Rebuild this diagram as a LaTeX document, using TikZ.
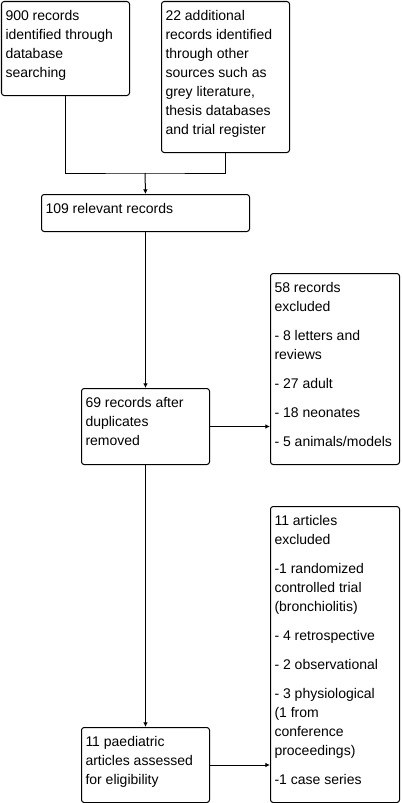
\documentclass[tikz,border=0pt]{standalone}
\usepackage{fontspec}
\setmainfont{Liberation Sans}
\usetikzlibrary{arrows.meta}

% text block of fixed size, set from the top
\newcommand{\flowtext}[3]{\parbox[t][#1][t]{#2}{\raggedright\rule{0pt}{14.25pt}#3}}

\begin{document}
\begin{tikzpicture}[
    x=0.75pt, y=-0.75pt,
    every node/.style={font=\fontsize{10.5pt}{14.25pt}\selectfont},
    box/.style={draw, rounded corners=2pt, line width=0.75pt, anchor=north west,
                inner xsep=3pt, inner ysep=0pt},
    arr/.style={-{Latex[length=3.5pt,width=3.5pt]}},
    line width=0.75pt,
]
  \useasboundingbox (0,0) rectangle (402,803);

  \node [box]  (db)     at (1,1)     {\flowtext{70.5pt}{90pt}{900 records\\identified through\\database\\searching}};
  \node [box]  (other)  at (161,1)   {\flowtext{113.25pt}{90pt}{22 additional\\records identified\\through other\\sources such as\\grey literature,\\thesis databases\\and trial register}};
  \node [box]  (rel)    at (41,194)  {\flowtext{27.75pt}{150pt}{109 relevant records}};
  \node [box]  (dedup)  at (81,388)  {\flowtext{57pt}{90pt}{69 records after\\duplicates\\removed}};
  \node [box]  (excl)   at (270,273) {\flowtext{143.25pt}{90.75pt}{58 records\\excluded\\[7.5pt]- 8 letters and\\reviews\\[7.5pt]- 27 adult\\[7.5pt]- 18 neonates\\[7.5pt]- 5 animals/models}};
  \node [box]  (paed)   at (81,727)  {\flowtext{56.25pt}{90pt}{11 paediatric\\articles assessed\\for eligibility}};
  \node [box]  (artex)  at (270,506) {\flowtext{222pt}{90.75pt}{11 articles\\excluded\\[7.5pt]-1 randomized\\controlled trial\\(bronchiolitis)\\[7.5pt]- 4 retrospective\\[7.5pt]- 2 observational\\[7.5pt]- 3 physiological\\(1 from\\conference\\proceedings)\\[7.5pt]-1 case series}};

  \coordinate (merge) at (145,173);

  \draw (db.south) |- (merge) -| (other.south);
  \draw [arr] (merge) -- (rel.north);
  \draw [arr] (rel.south) -- (dedup.north);
  \draw [arr] (dedup.south) -- (paed.north);
  \draw [arr] (dedup.east) -- (dedup.east -| excl.west);
  \draw [arr] (paed.east) -- (paed.east -| artex.west);
\end{tikzpicture}
\end{document}
